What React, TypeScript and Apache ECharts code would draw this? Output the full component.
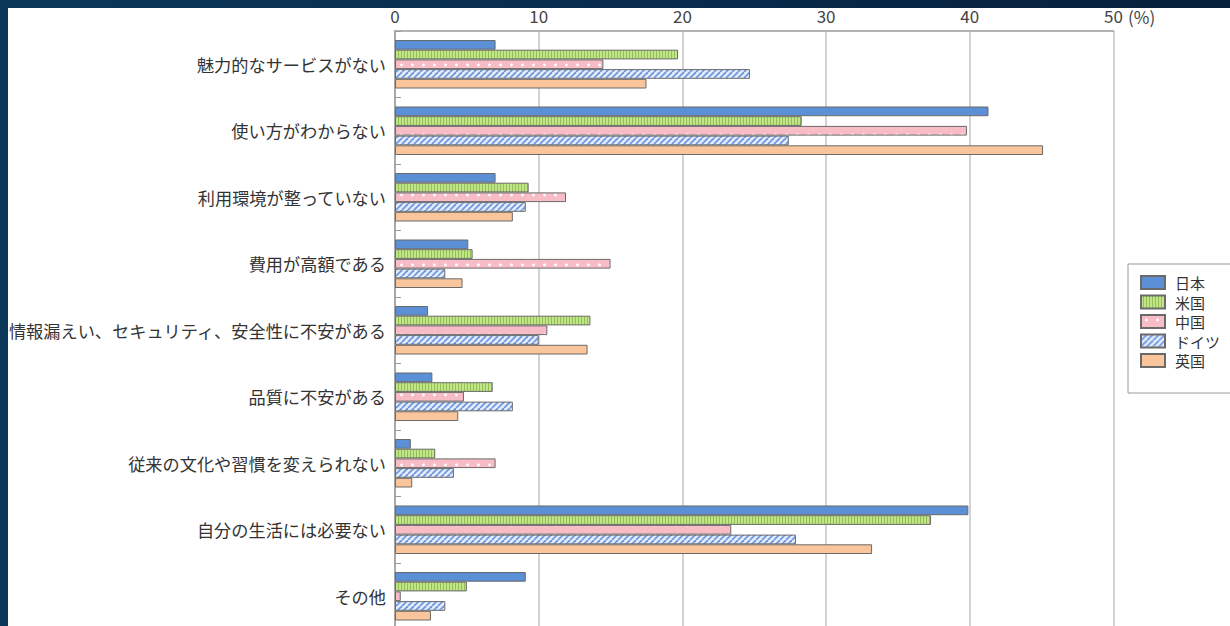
import React, { useEffect, useRef } from "react";
import * as echarts from "echarts";

const categories = [
  "魅力的なサービスがない",
  "使い方がわからない",
  "利用環境が整っていない",
  "費用が高額である",
  "情報漏えい、セキュリティ、安全性に不安がある",
  "品質に不安がある",
  "従来の文化や習慣を変えられない",
  "自分の生活には必要ない",
  "その他",
];

const seriesNames = ["日本", "米国", "中国", "ドイツ", "英国"];

const japan = [7.0, 41.3, 7.0, 5.1, 2.3, 2.6, 1.1, 39.9, 9.1];
const usa = [19.7, 28.3, 9.3, 5.4, 13.6, 6.8, 2.8, 37.3, 5.0];
const china = [14.5, 39.8, 11.9, 15.0, 10.6, 4.8, 7.0, 23.4, 0.4];
const germany = [24.7, 27.4, 9.1, 3.5, 10.0, 8.2, 4.1, 27.9, 3.5];
const uk = [17.5, 45.1, 8.2, 4.7, 13.4, 4.4, 1.2, 33.2, 2.5];

const xTicks = [0, 10, 20, 30, 40, 50];

const FONT = "'Noto Sans CJK JP', 'Noto Sans', sans-serif";

function makePattern(w: number, h: number, draw: (ctx: CanvasRenderingContext2D) => void) {
  const c = document.createElement("canvas");
  c.width = w;
  c.height = h;
  const ctx = c.getContext("2d") as CanvasRenderingContext2D;
  draw(ctx);
  return { image: c, repeat: "repeat" };
}

export default function App() {
  const ref = useRef<HTMLDivElement>(null);

  useEffect(() => {
    if (!ref.current) return;
    const chart = echarts.init(ref.current, undefined, { renderer: "svg" });

    const greenPat = makePattern(3, 4, (ctx) => {
      ctx.fillStyle = "#c3e48b";
      ctx.fillRect(0, 0, 3, 4);
      ctx.fillStyle = "#8fc251";
      ctx.fillRect(2, 0, 1, 4);
    });
    const pinkPat = makePattern(11, 10, (ctx) => {
      ctx.fillStyle = "#f8bcc7";
      ctx.fillRect(0, 0, 11, 10);
      ctx.fillStyle = "#ffffff";
      ctx.beginPath();
      ctx.arc(5.5, 5, 1.4, 0, Math.PI * 2);
      ctx.fill();
    });
    const hatchPat = makePattern(6, 6, (ctx) => {
      ctx.fillStyle = "#e4ecfa";
      ctx.fillRect(0, 0, 6, 6);
      ctx.strokeStyle = "#6f98e0";
      ctx.lineWidth = 1.8;
      for (const k of [-6, 0, 6]) {
        ctx.beginPath();
        ctx.moveTo(k, 6);
        ctx.lineTo(k + 6, 0);
        ctx.stroke();
      }
    });

    const colors: any[] = ["#5b8fd6", greenPat, pinkPat, hatchPat, "#fbc59c"];
    const dataSets = [japan, usa, china, germany, uk];

    const series = seriesNames.map((name, i) => ({
      name,
      type: "bar",
      data: dataSets[i],
      barWidth: 9.7,
      barGap: "0%",
      itemStyle: {
        color: colors[i],
        borderColor: "#6a6a6a",
        borderWidth: 1,
      },
    }));

    chart.setOption({
      animation: false,
      backgroundColor: "transparent",
      grid: {
        left: 395,
        top: 31,
        width: 718.5,
        height: 598.5,
        containLabel: false,
      },
      legend: {
        orient: "vertical",
        left: 1128,
        top: 264,
        padding: [11, 30, 25, 12],
        itemWidth: 24,
        itemHeight: 13,
        itemGap: 4.5,
        borderColor: "#9a9a9a",
        borderWidth: 1,
        icon: "rect",
        textStyle: {
          fontFamily: FONT,
          fontSize: 15,
          lineHeight: 15,
          color: "#333",
          padding: [0, 0, 0, 5],
        },
        data: seriesNames,
      },
      xAxis: {
        type: "value",
        position: "top",
        min: xTicks[0],
        max: xTicks[xTicks.length - 1],
        interval: 10,
        axisLine: { show: true, lineStyle: { color: "#9a9a9a", width: 1.5 } },
        axisTick: { show: false },
        splitLine: { show: true, lineStyle: { color: "#c4c4c4", width: 1.5 } },
        axisLabel: {
          fontFamily: FONT,
          fontSize: 17,
          color: "#444",
          margin: 7,
        },
      },
      yAxis: {
        type: "category",
        inverse: true,
        data: categories,
        axisLine: { show: true, lineStyle: { color: "#9a9a9a", width: 1.5 } },
        axisTick: {
          show: true,
          inside: true,
          length: 6,
          lineStyle: { color: "#9a9a9a" },
        },
        axisLabel: {
          interval: 0,
          fontFamily: FONT,
          fontSize: 17.2,
          color: "#333",
          margin: 9,
        },
      },
      graphic: [
        {
          type: "text",
          left: 1128,
          top: 8,
          style: {
            text: "(%)",
            fontFamily: FONT,
            fontSize: 17,
            fill: "#444",
          },
        },
      ],
      series,
    });

    return () => {
      chart.dispose();
    };
  }, []);

  return (
    <div
      style={{
        position: "absolute",
        left: 0,
        top: 0,
        width: 1230,
        height: 626,
        overflow: "hidden",
        background: "linear-gradient(90deg, #0b3859 0%, #08294a 60%, #061f3a 100%)",
      }}
    >
      <div
        style={{
          position: "absolute",
          left: 8,
          top: 8,
          width: 1222,
          height: 618,
          background: "#ffffff",
        }}
      />
      <div
        ref={ref}
        style={{ position: "absolute", left: 0, top: 0, width: 1230, height: 640 }}
      />
    </div>
  );
}
